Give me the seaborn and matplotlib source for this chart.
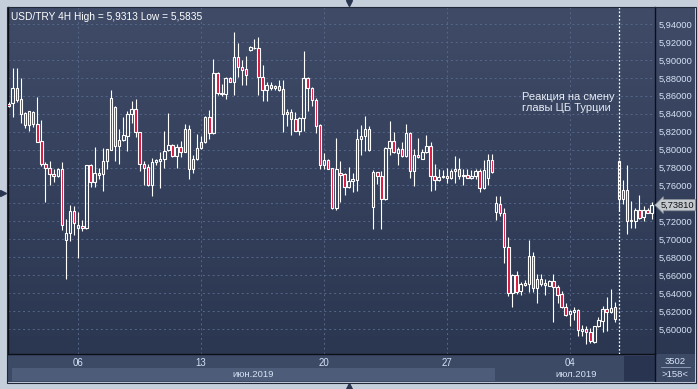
import numpy as np
import pandas as pd
import matplotlib
matplotlib.use("Agg")
import matplotlib.pyplot as plt
import seaborn as sns
from matplotlib.colors import LinearSegmentedColormap
from matplotlib.lines import Line2D
from matplotlib.patches import Rectangle
from matplotlib.transforms import blended_transform_factory

# ---------------- data ----------------
title_text = "USD/TRY 4H High = 5,9313 Low = 5,5835"
annotation_text = "Реакция на смену\nглавы ЦБ Турции"
day_labels = ["06", "13", "20", "27", "04"]
day_positions = [17, 47, 77, 107, 137]
month_labels = ["июн.2019", "июл.2019"]
event_index = 149
last_price = 5.73810
bars_total = "3502"
bars_visible = ">158<"
price_ticks = [5.60, 5.62, 5.64, 5.66, 5.68, 5.70, 5.72, 5.74, 5.76, 5.78,
               5.80, 5.82, 5.84, 5.86, 5.88, 5.90, 5.92, 5.94]

opens = [5.851, 5.8519, 5.8685, 5.8563, 5.8404, 5.8278, 5.8422, 5.8289, 5.8100, 5.7841,
         5.7800, 5.7733, 5.7700, 5.7789, 5.6996, 5.7070, 5.7319, 5.7130, 5.7152, 5.7122,
         5.7830, 5.7641, 5.7722, 5.7730, 5.7870, 5.8000, 5.8470, 5.8037, 5.8107, 5.8148,
         5.8396, 5.8452, 5.8200, 5.7844, 5.7811, 5.7604, 5.7863, 5.7876, 5.7893, 5.7996,
         5.8048, 5.7933, 5.8030, 5.7978, 5.8226, 5.7781, 5.7893, 5.8015, 5.8085, 5.8367,
         5.8181, 5.8859, 5.8630, 5.8619, 5.8793, 5.8756, 5.9037, 5.8926, 5.8893, 5.9111,
         5.9130, 5.9137, 5.8811, 5.8663, 5.8719, 5.8681, 5.8704, 5.8670, 5.8393, 5.8415,
         5.8341, 5.8211, 5.8348, 5.8793, 5.8681, 5.8552, 5.8278, 5.7833, 5.7889, 5.7800,
         5.7344, 5.7741, 5.7726, 5.7578, 5.7648, 5.7659, 5.8115, 5.8152, 5.8233, 5.7363,
         5.7752, 5.7707, 5.7448, 5.8019, 5.8096, 5.7967, 5.8011, 5.7926, 5.8185, 5.7759,
         5.7944, 5.7900, 5.7970, 5.8044, 5.7707, 5.7659, 5.7689, 5.7707, 5.7678, 5.7763,
         5.7778, 5.7704, 5.7715, 5.7678, 5.7704, 5.7763, 5.7567, 5.7678, 5.7889, 5.7307,
         5.7389, 5.7296, 5.6919, 5.6396, 5.6600, 5.6426, 5.6493, 5.6500, 5.6811, 5.6452,
         5.6556, 5.6511, 5.6481, 5.6533, 5.6463, 5.6389, 5.6241, 5.6163, 5.6185, 5.6211,
         5.5981, 5.6000, 5.5963, 5.5852, 5.6030, 5.6093, 5.6222, 5.6185, 5.6241, 5.7878,
         5.7452, 5.7544, 5.7204, 5.7204, 5.7322, 5.7252, 5.7330, 5.7296]
highs = [5.853, 5.8915, 5.8915, 5.8793, 5.8415, 5.8433, 5.8425, 5.8589, 5.8333, 5.7859,
         5.7878, 5.7789, 5.7793, 5.7856, 5.7230, 5.7378, 5.7370, 5.7307, 5.7211, 5.7833,
         5.7841, 5.8033, 5.7793, 5.8019, 5.8011, 5.8663, 5.8481, 5.8230, 5.8367, 5.8433,
         5.8544, 5.8563, 5.8200, 5.7870, 5.7841, 5.7904, 5.7900, 5.7978, 5.8207, 5.8404,
         5.8063, 5.8063, 5.8093, 5.8285, 5.8270, 5.7944, 5.8174, 5.8152, 5.8374, 5.8441,
         5.9015, 5.8863, 5.8730, 5.8811, 5.8811, 5.9313, 5.9185, 5.9004, 5.9041, 5.9152,
         5.9237, 5.9256, 5.8941, 5.8752, 5.8752, 5.8722, 5.8774, 5.8774, 5.8456, 5.8456,
         5.8419, 5.8367, 5.9096, 5.8811, 5.8700, 5.8570, 5.8289, 5.7963, 5.7900, 5.7800,
         5.8133, 5.7870, 5.7744, 5.7807, 5.7744, 5.8226, 5.8270, 5.8374, 5.8263, 5.7767,
         5.7752, 5.7759, 5.8030, 5.8319, 5.8196, 5.8030, 5.8085, 5.8289, 5.8196, 5.8011,
         5.8130, 5.8011, 5.8159, 5.8085, 5.7844, 5.7789, 5.7770, 5.7796, 5.7778, 5.7930,
         5.7907, 5.7789, 5.7778, 5.7770, 5.7789, 5.7778, 5.7889, 5.7956, 5.7956, 5.7485,
         5.7481, 5.7352, 5.7026, 5.6611, 5.6648, 5.6526, 5.6544, 5.6989, 5.6859, 5.6611,
         5.6611, 5.6556, 5.6548, 5.6611, 5.6489, 5.6426, 5.6285, 5.6215, 5.6241, 5.6222,
         5.6044, 5.6037, 5.6007, 5.6037, 5.6137, 5.6259, 5.6352, 5.6444, 5.6296, 5.7889,
         5.7659, 5.7833, 5.7426, 5.7348, 5.7489, 5.7370, 5.7352, 5.7419]
lows = [5.847, 5.8359, 5.8526, 5.8293, 5.8241, 5.8211, 5.8248, 5.8082, 5.7822, 5.7415,
        5.7607, 5.7637, 5.7693, 5.7100, 5.6559, 5.6981, 5.7044, 5.6793, 5.7093, 5.7115,
        5.7581, 5.7581, 5.7674, 5.7537, 5.7785, 5.7996, 5.7870, 5.7841, 5.8100, 5.7989,
        5.8293, 5.8137, 5.7756, 5.7607, 5.7593, 5.7478, 5.7833, 5.7570, 5.7800, 5.7989,
        5.7922, 5.7793, 5.7922, 5.7974, 5.7670, 5.7737, 5.7885, 5.8007, 5.8078, 5.8122,
        5.8178, 5.8611, 5.8596, 5.8567, 5.8748, 5.8607, 5.8811, 5.8719, 5.8719, 5.9104,
        5.9126, 5.8607, 5.8544, 5.8544, 5.8663, 5.8663, 5.8652, 5.8200, 5.8267, 5.8159,
        5.8204, 5.8163, 5.8211, 5.8433, 5.8485, 5.8189, 5.7781, 5.7778, 5.7778, 5.7337,
        5.7326, 5.7419, 5.7493, 5.7567, 5.7530, 5.7537, 5.7937, 5.7981, 5.7981, 5.7115,
        5.7611, 5.7115, 5.7437, 5.7937, 5.7967, 5.7833, 5.7919, 5.7919, 5.7678, 5.7589,
        5.7907, 5.7893, 5.7963, 5.7537, 5.7548, 5.7648, 5.7678, 5.7630, 5.7670, 5.7630,
        5.7670, 5.7604, 5.7678, 5.7670, 5.7670, 5.7530, 5.7556, 5.7604, 5.7744, 5.7215,
        5.7259, 5.6741, 5.6370, 5.6241, 5.6389, 5.6381, 5.6481, 5.6407, 5.6407, 5.6285,
        5.6474, 5.6381, 5.6474, 5.6074, 5.6289, 5.6233, 5.6141, 5.6037, 5.6104, 5.5926,
        5.5926, 5.5835, 5.5841, 5.5844, 5.6019, 5.5963, 5.5981, 5.6178, 5.6074, 5.7315,
        5.7389, 5.7063, 5.7122, 5.7122, 5.7230, 5.7204, 5.7289, 5.7222]
closes = [5.849, 5.8685, 5.8552, 5.8396, 5.8274, 5.8426, 5.8285, 5.8085, 5.7837, 5.7796,
          5.7730, 5.7707, 5.7789, 5.7163, 5.7074, 5.7319, 5.7181, 5.7156, 5.7130, 5.7830,
          5.7641, 5.7741, 5.7741, 5.7878, 5.8007, 5.8574, 5.8041, 5.8111, 5.8163, 5.8400,
          5.8452, 5.8196, 5.7841, 5.7796, 5.7604, 5.7867, 5.7881, 5.7890, 5.7989, 5.8048,
          5.7926, 5.8030, 5.7978, 5.8226, 5.7781, 5.7893, 5.8015, 5.8085, 5.8367, 5.8181,
          5.8859, 5.8626, 5.8615, 5.8793, 5.8756, 5.9037, 5.8926, 5.8889, 5.8833, 5.9141,
          5.9137, 5.8811, 5.8663, 5.8719, 5.8681, 5.8707, 5.8667, 5.8393, 5.8419, 5.8337,
          5.8211, 5.8356, 5.8793, 5.8681, 5.8552, 5.8263, 5.7826, 5.7889, 5.7789, 5.7344,
          5.7789, 5.7715, 5.7585, 5.7652, 5.7670, 5.8122, 5.8152, 5.8233, 5.7993, 5.7752,
          5.7707, 5.7452, 5.8019, 5.8096, 5.7974, 5.8011, 5.7926, 5.8185, 5.7759, 5.7944,
          5.7915, 5.7974, 5.8044, 5.7704, 5.7659, 5.7696, 5.7707, 5.7678, 5.7763, 5.7778,
          5.7704, 5.7719, 5.7685, 5.7707, 5.7763, 5.7567, 5.7770, 5.7889, 5.7752, 5.7400,
          5.7296, 5.6919, 5.6396, 5.6600, 5.6407, 5.6500, 5.6511, 5.6811, 5.6452, 5.6556,
          5.6500, 5.6489, 5.6533, 5.6463, 5.6381, 5.6241, 5.6156, 5.6196, 5.6211, 5.5985,
          5.6000, 5.5963, 5.5863, 5.6030, 5.6100, 5.6222, 5.6185, 5.6230, 5.6111, 5.7452,
          5.7544, 5.7204, 5.7215, 5.7322, 5.7241, 5.7330, 5.7296, 5.7381]

# ---------------- style ----------------
sns.set_theme(style="dark")
plt.rcParams["font.family"] = ["Liberation Sans", "DejaVu Sans"]

W, H = 698, 389
FRAME = "#c5cfdb"
TXT = "#d6e2f5"
GRID = "#56678a"
RED = "#d8123c"

df = pd.DataFrame({"open": opens, "high": highs, "low": lows, "close": closes})
df["idx"] = np.arange(len(df))
df["top"] = df[["open", "close"]].max(axis=1)
df["bot"] = df[["open", "close"]].min(axis=1)
df["h"] = np.maximum(df["top"] - df["bot"], 0.0008)
df["up"] = df["close"] >= df["open"]

fig = plt.figure(figsize=(W / 100, H / 100), dpi=100, facecolor=FRAME)


def rect(l, t, r, b):
    return [l / W, 1 - b / H, (r - l) / W, (b - t) / H]


# gradient background for plot + right price panel
bg = fig.add_axes(rect(8, 7, 695, 354), zorder=0)
cmap = LinearSegmentedColormap.from_list("bg", ["#2b3751", "#3f4b67"])
grad = np.linspace(0, 1, 256).reshape(-1, 1)
bg.imshow(grad, aspect="auto", cmap=cmap, origin="lower", extent=[0, 1, 0, 1])
bg.set_axis_off()

ax = fig.add_axes(rect(8, 7, 655, 354), zorder=2)
ax.set_facecolor("none")

ymin = 5.94 - 330 / 897
ymax = 5.94 + 17 / 897
ax.set_xlim(-0.15, 157.8)
ax.set_ylim(ymin, ymax)

# grid
for p in price_ticks:
    ax.axhline(p, color=GRID, lw=0.7, ls=(0, (2, 3)), zorder=1)
for xp in day_positions:
    ax.axvline(xp, color=GRID, lw=0.7, ls=(0, (2, 3)), zorder=1)

# candles
ax.vlines(df["idx"], df["top"], df["high"], color="white", lw=0.8, zorder=3)
ax.vlines(df["idx"], df["low"], df["bot"], color="white", lw=0.8, zorder=3)
up = df[df["up"]]
dn = df[~df["up"]]
ax.bar(up["idx"], up["h"], bottom=up["bot"], width=0.6, facecolor="none",
       edgecolor="white", linewidth=0.8, zorder=4)
ax.bar(dn["idx"], dn["h"], bottom=dn["bot"], width=0.6, facecolor=RED,
       edgecolor="white", linewidth=0.8, zorder=4)

# event line
ax.axvline(event_index, color="white", lw=0.9, ls=(0, (1.5, 1.5)), zorder=5)
ax.text(125.3, 5.8527, annotation_text, color="#e6ecf6", fontsize=8.0,
        va="center", ha="left", linespacing=1.12, zorder=6)

# title
ax.text(0.004, 0.985, title_text, transform=ax.transAxes, color="white",
        fontsize=7.3, va="top", ha="left", zorder=6)

# axes / ticks
ax.yaxis.tick_right()
lbl_ticks = [p for p in price_ticks if abs(p - 5.74) > 1e-9]
ax.set_yticks(lbl_ticks)
ax.set_yticklabels([f"{p:.5f}".replace(".", ",") for p in lbl_ticks])
ax.tick_params(axis="y", length=0, pad=2.8, labelsize=6.7, labelcolor=TXT)
ax.set_xticks(day_positions)
ax.set_xticklabels(day_labels)
ax.tick_params(axis="x", length=0, pad=3.0, labelsize=6.9, labelcolor=TXT)
for s in ["left", "right", "bottom"]:
    ax.spines[s].set_visible(True)
    ax.spines[s].set_color("#0c0f18")
    ax.spines[s].set_linewidth(1.0)
ax.spines["top"].set_visible(False)
ax.grid(False)

# current price tag
tr = blended_transform_factory(ax.transAxes, ax.transData)
ax.text(1.009, last_price, f"{last_price:.5f}".replace(".", ","), transform=tr,
        fontsize=6.7, color="#101010", va="center", ha="left", clip_on=False, zorder=7,
        bbox=dict(boxstyle="larrow,pad=0.12", facecolor="#c4c8cf", edgecolor="#8a9099", lw=0.6))

# bottom date strip (drawn beneath axis labels)
strip = fig.add_axes(rect(8, 354, 695, 382), zorder=1)
strip.set_xlim(8, 695)
strip.set_ylim(382, 354)
strip.set_facecolor("#3d4a66")
strip.add_patch(Rectangle((12, 368), 483, 13, facecolor="#4c5c79", edgecolor="none"))
strip.add_patch(Rectangle((624, 356), 31, 25.5, facecolor="#283450", edgecolor="none"))
strip.axvline(655, color="#0c0f18", lw=1.0)
strip.text(253, 374.5, month_labels[0], color=TXT, fontsize=6.8, ha="center", va="center")
strip.text(576, 374.5, month_labels[1], color=TXT, fontsize=6.8, ha="center", va="center")
strip.text(675, 361.5, bars_total, color=TXT, fontsize=6.8, ha="center", va="center")
strip.plot([661, 690], [367.5, 367.5], color="#8797b3", lw=0.7)
strip.text(675, 374.5, bars_visible, color=TXT, fontsize=6.8, ha="center", va="center")
strip.set_xticks([])
strip.set_yticks([])
for s in strip.spines.values():
    s.set_visible(False)

# outer panel border and frame arrows
fig.add_artist(Rectangle((7.5 / W, 1 - 382.5 / H), 688 / W, 375.5 / H, transform=fig.transFigure,
                         facecolor="none", edgecolor="#20283a", lw=0.8, zorder=10))
fig.add_artist(Line2D([349 / W], [1 - 3 / H], marker="v", markersize=5, color="#2a3550",
                      transform=fig.transFigure))
fig.add_artist(Line2D([349 / W], [1 - 386 / H], marker="^", markersize=5, color="#2a3550",
                      transform=fig.transFigure))
fig.add_artist(Line2D([3 / W], [1 - 193 / H], marker=">", markersize=5, color="#2a3550",
                      transform=fig.transFigure))

fig.savefig("out.png", dpi=100, facecolor=FRAME)
